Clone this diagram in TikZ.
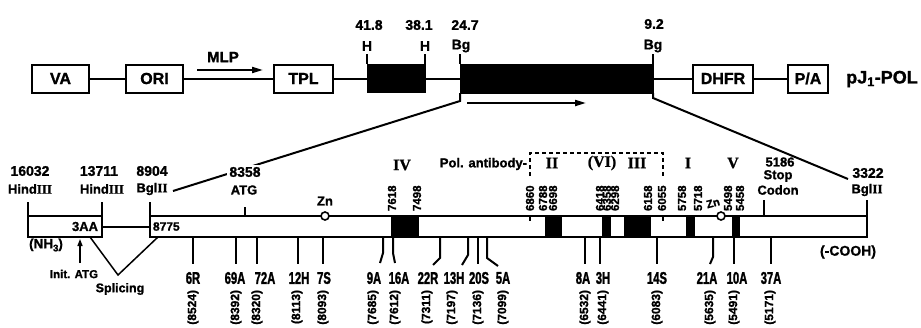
\documentclass[tikz,border=0pt]{standalone}
\usepackage{fontspec}
\setmainfont{Liberation Sans}[BoldFeatures={FakeBold=1.2}]
\newfontfamily\condf{Liberation Sans}[FakeStretch=0.66,BoldFeatures={FakeBold=1.5}]
\newfontfamily\romfont{Liberation Serif}[BoldFeatures={FakeBold=1}]
\usetikzlibrary{arrows.meta}
\begin{document}
\begin{tikzpicture}[x=1pt,y=-1pt,line width=2pt,
  every node/.style={inner sep=0pt},
  gbox/.style={draw,line width=2pt,minimum height=28pt,font=\bfseries\fontsize{16}{16}\selectfont},
  blk/.style={fill=black,draw=black,line width=0.8pt},
  tl/.style={font=\bfseries\fontsize{14}{14}\selectfont},
  ml/.style={font=\bfseries\fontsize{13}{13}\selectfont},
  bl/.style={font=\condf\bfseries\fontsize{17}{17}\selectfont},
  vnum/.style={rotate=90,font=\bfseries\fontsize{12}{12}\selectfont},
  tnum/.style={rotate=90,font=\bfseries\fontsize{11.5}{11.5}\selectfont},
  rom/.style={font=\romfont\bfseries\fontsize{16}{16}\selectfont},
  arr/.style={-{Triangle[length=11pt,width=6pt]}},
  bar/.style={draw,line width=2pt,minimum height=21pt},
  zn/.style={circle,draw,fill=white,minimum size=8pt,line width=1.6pt}]
\useasboundingbox (0,0) rectangle (921,327);
% ---------- top construct ----------
\node[gbox,minimum width=57pt] (va) at (60.5,78.5) {VA};
\node[gbox,minimum width=57pt] (ori) at (154.5,78.5) {ORI};
\node[gbox,minimum width=59pt] (tpl) at (303.5,78.5) {TPL};
\node[blk,minimum width=58pt,minimum height=28pt] (hb) at (396.5,78.5) {};
\node[blk,minimum width=193pt,minimum height=29pt] (bgb) at (556.5,78.5) {};
\node[gbox,minimum width=60pt] (dhfr) at (723,78.5) {DHFR};
\node[gbox,minimum width=40pt] (pa) at (808,78.5) {P/A};
\node[font=\bfseries\fontsize{18}{18}\selectfont] (pj) at (882,79) {pJ\textsubscript{1}-POL};
\draw (va) -- (ori);
\draw (ori) -- (tpl);
\draw (tpl) -- (hb);
\draw (hb) -- (bgb);
\draw (bgb) -- (dhfr);
\draw (dhfr) -- (pa);
\coordinate (m1) at (197,70);
\coordinate (m2) at (263,70);
\draw[arr] (m1) -- (m2);
\node[font=\bfseries\fontsize{15}{15}\selectfont] (mlp) at (223,57) {MLP};
\draw (367,54) -- (367,64);
\draw (425,54) -- (425,64);
\draw (460,54) -- (460,64);
\draw (653,54) -- (653,64);
\node[tl] (lh1) at (367,46) {H};
\node[tl] (lh2) at (425,46) {H};
\node[tl] (lbg1) at (461,46) {Bg};
\node[tl] (lbg2) at (653,46) {Bg};
\node[tl] (p418) at (369,25) {41.8};
\node[tl] (p381) at (419,25) {38.1};
\node[tl] (p247) at (465,25) {24.7};
\node[tl] (p92) at (654,24) {9.2};
\coordinate (a1) at (467,103);
\coordinate (a2) at (586,103);
\draw[arr] (a1) -- (a2);
% expansion lines
\coordinate (e0) at (460,93);
\coordinate (e1) at (460,101);
\coordinate (e2) at (173,191);
\draw (e0) -- (e1) -- (e2);
\coordinate (f0) at (653,93);
\coordinate (f1) at (653,98);
\coordinate (f2) at (848,179);
\draw (f0) -- (f1) -- (f2);
% ---------- lower map ----------
\node[bar,minimum width=74pt] (lb) at (65,226.5) {};
\node[bar,minimum width=717pt] (rb) at (508.5,226.5) {};
\draw (lb) -- (rb);
\node[font=\bfseries\fontsize{13}{13}\selectfont,anchor=east] (t3aa) at (99,226.5) {3AA};
\node[font=\bfseries\fontsize{12}{12}\selectfont,anchor=west] (t8775) at (152,226.5) {8775};
\foreach \a/\b in {391/419,545/562,602/611,624/651,686/695,732/740}
  \fill (\a,215) rectangle (\b,238);
\draw[line width=1.4pt] (530,216) -- (530,221);
\draw[line width=1.4pt] (663,216) -- (663,221);
\node[zn] (zn1) at (325,216) {};
\node[zn] (zn2) at (721,216) {};
\node[ml] (tzn1) at (325,201) {Zn};
\node[font=\bfseries\fontsize{11}{11}\selectfont,rotate=15] (tzn2) at (713,203) {Zn};
% ticks above bar
\draw (28,202) -- (28,216);
\draw (102,202) -- (102,216);
\draw (150,202) -- (150,216);
\draw (245,207) -- (245,216);
\draw (764,200) -- (764,216);
\draw (867,200) -- (867,216);
\node[tl] (s1) at (30,171) {16032};
\node[ml] (s2) at (30,189) {Hind{\romfont\bfseries III}};
\node[tl] (s3) at (99,171) {13711};
\node[ml] (s4) at (102,189) {Hind{\romfont\bfseries III}};
\node[tl] (s5) at (152,171) {8904};
\node[ml] (s6) at (152,189) {Bgl{\romfont\bfseries II}};
\node[tl,fill=white,inner sep=2pt] (s7) at (245,172) {8358};
\node[ml] (s8) at (244,190) {ATG};
\node[ml] (s9) at (780,162) {5186};
\node[ml] (s10) at (778,176) {Stop};
\node[ml] (s11) at (778,190) {Codon};
\node[tl] (s12) at (868,173) {3322};
\node[ml] (s13) at (867,190) {Bgl{\romfont\bfseries II}};
% roman numerals and antibody box
\node[rom] (r4) at (402,165) {IV};
\node[rom] (r2) at (552,163) {II};
\node[rom] (r6) at (602,163) {(VI)};
\node[rom] (r3) at (637,163) {III};
\node[rom] (r1) at (688,163) {I};
\node[rom] (r5) at (733,163) {V};
\draw[line width=1.5pt,dash pattern=on 4pt off 3pt] (530,176) -- (530,153) -- (663,153) -- (663,176);
\node[font=\bfseries\fontsize{13}{13}\selectfont,anchor=east] (pol) at (528,164) {Pol. antibody-};
% vertical position numbers above bar
\foreach \x/\t in {392/7618,417/7498,530/6860,543/6788,553/6698,600/6418,607/6358,615/6298,648/6158,662/6055,682/5758,698/5718,728/5498,740/5458}
  \node[tnum,anchor=west] at (\x,212) {\t};
% left end labels
\node[font=\bfseries\fontsize{13.5}{13.5}\selectfont] (nh) at (46,245) {(NH\raisebox{-3pt}{\fontsize{9.5}{9.5}\selectfont 3})};
\node[font=\bfseries\fontsize{14}{14}\selectfont] (cooh) at (848,252) {(-COOH)};
\coordinate (i1) at (80,263);
\coordinate (i2) at (80,239);
\draw[line width=1.4pt,-{Triangle[length=7pt,width=5pt]}] (i1) -- (i2);
\node[font=\bfseries\fontsize{11.5}{11.5}\selectfont] (iatg) at (74,274) {Init. ATG};
\draw[line width=1.5pt] (90,237) -- (118,275) -- (158,237);
\node[font=\bfseries\fontsize{12.5}{12.5}\selectfont] (spl) at (120,289) {Splicing};
% bottom clones
\foreach \p in {193,236,257,298,323,478,585,600,657,734,771}
  \draw (\p,237) -- (\p,264);
\foreach \lx/\l/\nx/\n in {193/6R/193/8524,235/69A/236/8392,265/72A/257/8320,299/12H/297/8113,324/7S/323/8093,374/9A/373/7685,399/16A/395/7612,428/22R/427/7311,454/13H/452/7197,479/20S/478/7136,503/5A/503/7099,583/8A/585/6532,603/3H/603/6441,657/14S/657/6083,707/21A/710/5635,737/10A/734/5491,771/37A/770/5171}
  {\node[bl] at (\lx,278) {\l};
   \node[vnum,anchor=east] at (\nx,289) {(\n)};}
\draw (383,237) -- (383,253) -- (380,263);
\draw (393,237) -- (393,253) -- (395,263);
\draw (440,237) -- (440,258) -- (433,265);
\draw (468,237) -- (468,255) -- (462,265);
\draw (487,237) -- (487,258) -- (498,266);
\draw (713,237) -- (713,257) -- (710,264);
\end{tikzpicture}
\end{document}
